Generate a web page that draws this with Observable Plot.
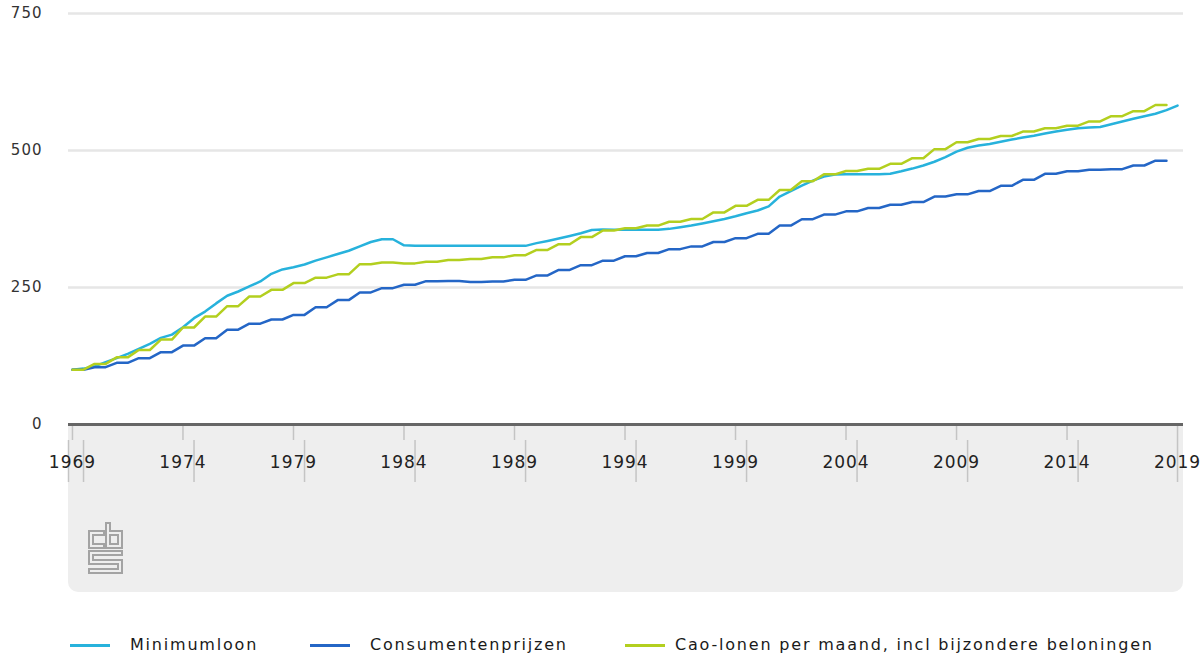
<!DOCTYPE html>
<html>
<head>
<meta charset="utf-8">
<script src="https://cdn.jsdelivr.net/npm/d3@7"></script>
<script src="https://cdn.jsdelivr.net/npm/@observablehq/plot@0.6"></script>
<style>
  html, body { margin: 0; padding: 0; background: #ffffff; }
  #wrap { position: relative; width: 1203px; height: 657px; overflow: hidden; font-family: "DejaVu Sans", sans-serif; }
  #graybox { position: absolute; left: 68px; top: 424px; width: 1115px; height: 168px; background: #eeeeee; border-radius: 0 0 10px 10px; }
  #logo { position: absolute; left: 88px; top: 522px; }
  #chart { position: absolute; left: 0; top: 0; }
  .leg { position: absolute; top: 633px; height: 24px; }
  .sw { position: absolute; top: 11px; width: 40px; height: 3px; }
  .lt { position: absolute; top: 0; font-size: 16px; letter-spacing: 1.8px; color: #1a1a1a; white-space: nowrap; line-height: 24px; }
</style>
</head>
<body>
<div id="wrap">
  <div id="graybox"></div>
  <svg id="logo" width="36" height="52" viewBox="0 0 36 52">
    <g fill="none" stroke="#a3a3a3" stroke-width="2">
      <path d="M16,9 H1 V26 H16 V22 H5 V13 H16 Z"/>
      <path d="M18,1 H22 V9 H34 V26 H18 Z"/>
      <path d="M22,13 H30 V22 H22 Z"/>
      <path d="M34,29 H1 V42 H30 V47 H1 V51 H34 V38 H5 V33 H34 Z"/>
    </g>
  </svg>
  <div id="chart"></div>
  <div id="legend"></div>
</div>
<script>
// ---------- DATA ----------
const series = ["Minimumloon", "Consumentenprijzen", "Cao-lonen per maand, incl bijzondere beloningen"];
const seriesColors = ["#27b2dc", "#2466c6", "#b3cf1f"];

// half-yearly periods (minimumloon)
const halfYears = [
  1969, 1969.5, 1970, 1970.5, 1971, 1971.5, 1972, 1972.5, 1973, 1973.5,
  1974, 1974.5, 1975, 1975.5, 1976, 1976.5, 1977, 1977.5, 1978, 1978.5,
  1979, 1979.5, 1980, 1980.5, 1981, 1981.5, 1982, 1982.5, 1983, 1983.5,
  1984, 1984.5, 1985, 1985.5, 1986, 1986.5, 1987, 1987.5, 1988, 1988.5,
  1989, 1989.5, 1990, 1990.5, 1991, 1991.5, 1992, 1992.5, 1993, 1993.5,
  1994, 1994.5, 1995, 1995.5, 1996, 1996.5, 1997, 1997.5, 1998, 1998.5,
  1999, 1999.5, 2000, 2000.5, 2001, 2001.5, 2002, 2002.5, 2003, 2003.5,
  2004, 2004.5, 2005, 2005.5, 2006, 2006.5, 2007, 2007.5, 2008, 2008.5,
  2009, 2009.5, 2010, 2010.5, 2011, 2011.5, 2012, 2012.5, 2013, 2013.5,
  2014, 2014.5, 2015, 2015.5, 2016, 2016.5, 2017, 2017.5, 2018, 2018.5,
  2019
];
const minimumloon = [
  100, 102, 106, 113.7, 121, 129, 138, 147, 158, 164,
  177.6, 194, 206, 221, 235, 242.7, 252, 261, 275, 283,
  287, 292, 299, 305, 311, 317, 325, 333, 338, 338,
  327, 326, 326, 326, 326, 326, 326, 326, 326, 326,
  326, 326, 331, 335, 339.4, 344, 349, 355, 356, 355.5,
  355.5, 355.5, 355.5, 355.5, 357, 360, 363, 366.8, 371, 375,
  380, 385.6, 390.5, 398, 416, 425.7, 436, 445, 452.6, 456,
  456.5, 456.5, 456.5, 456.5, 457.5, 462, 467, 472.6, 479.5, 488,
  498, 505, 509, 512, 516, 520, 523.7, 527, 531, 534.7,
  537.7, 540.7, 542, 543, 548, 553, 558, 562.6, 567, 573.6,
  582
];

// yearly periods (consumentenprijzen, cao-lonen)
const years = [
  1969, 1970, 1971, 1972, 1973, 1974, 1975, 1976, 1977, 1978,
  1979, 1980, 1981, 1982, 1983, 1984, 1985, 1986, 1987, 1988,
  1989, 1990, 1991, 1992, 1993, 1994, 1995, 1996, 1997, 1998,
  1999, 2000, 2001, 2002, 2003, 2004, 2005, 2006, 2007, 2008,
  2009, 2010, 2011, 2012, 2013, 2014, 2015, 2016, 2017, 2018
];
const consumentenprijzen = [
  100, 104.6, 112.5, 121, 132, 144, 157.5, 173, 184, 191.6,
  200, 214, 227, 241, 248.8, 255, 261.6, 262, 260, 261,
  264, 272, 282, 290.7, 299, 307, 313, 320, 325, 333,
  340, 348, 363, 374.6, 383, 389, 395, 401, 406, 416,
  420, 426, 435.5, 446.5, 457.5, 462, 465, 466, 472.6, 481.5
];
const caoLonen = [
  100, 110.5, 122.5, 136, 155, 177, 197, 216, 233.6, 245.7,
  258, 268, 274, 292.6, 295.6, 294, 297, 300, 302, 305,
  309, 318.5, 329, 342, 354, 358, 363, 370, 375, 387,
  399, 410, 428, 444, 456.5, 462.5, 466.6, 475.7, 486, 502.5,
  515, 521, 526.5, 534.6, 540.5, 545.3, 553, 562.6, 571.7, 583
];

const yTicks = [0, 250, 500, 750];
const xTicks = [1969, 1974, 1979, 1984, 1989, 1994, 1999, 2004, 2009, 2014, 2019];

// ---------- TABLE ----------
const rows = [];
halfYears.forEach((t, i) => rows.push({t, v: minimumloon[i], s: series[0]}));
years.forEach((y, i) => {
  // yearly figures are reported for both half-year periods of the year
  rows.push({t: y, v: consumentenprijzen[i], s: series[1]});
  rows.push({t: y + 0.5, v: consumentenprijzen[i], s: series[1]});
});
years.forEach((y, i) => {
  rows.push({t: y, v: caoLonen[i], s: series[2]});
  rows.push({t: y + 0.5, v: caoLonen[i], s: series[2]});
});

const xDomain = [1968.82, 2019.27];
const longTicks = [xDomain[0]].concat(xTicks.map(d => d < 2019 ? d + 0.5 : d));

const chart = Plot.plot({
  width: 1203,
  height: 600,
  marginTop: 13,
  marginBottom: 176,
  marginLeft: 68,
  marginRight: 20,
  style: {background: "transparent", fontFamily: "DejaVu Sans, sans-serif", overflow: "visible"},
  x: {domain: xDomain, label: null},
  y: {domain: [0, 750], label: null},
  color: {domain: series, range: seriesColors},
  marks: [
    Plot.gridY(yTicks.filter(d => d > 0), {stroke: "#e6e6e6", strokeOpacity: 1, strokeWidth: 2.5}),
    Plot.axisY(yTicks, {tickSize: 0, tickPadding: 26, fontSize: 15, fill: "#333", label: null}),
    Plot.ruleX(xTicks, {stroke: "#c4c4c4", strokeWidth: 1.5, insetTop: 411, insetBottom: -16}),
    Plot.ruleX(longTicks, {stroke: "#c4c4c4", strokeWidth: 1.5, insetTop: 427, insetBottom: -58}),
    Plot.ruleY([0], {stroke: "#666666", strokeWidth: 3}),
    Plot.line(rows, {x: "t", y: "v", z: "s", stroke: "s", strokeWidth: 2.5, curve: "linear"}),
    Plot.axisX(xTicks, {tickSize: 0, tickPadding: 31, fontSize: 17, fill: "#222", label: null, tickFormat: d => String(d)})
  ]
});
chart.querySelectorAll("text").forEach(t => t.setAttribute("letter-spacing", "1"));
document.getElementById("chart").appendChild(chart);

// ---------- LEGEND ----------
const legendPos = [[70, 130], [310, 370], [625, 675]];
const legend = document.getElementById("legend");
series.forEach((s, i) => {
  const item = document.createElement("div");
  item.className = "leg";
  item.style.left = "0px";
  const sw = document.createElement("div");
  sw.className = "sw";
  sw.style.left = legendPos[i][0] + "px";
  sw.style.background = seriesColors[i];
  const tx = document.createElement("div");
  tx.className = "lt";
  tx.style.left = legendPos[i][1] + "px";
  tx.textContent = s;
  item.appendChild(sw);
  item.appendChild(tx);
  legend.appendChild(item);
});
</script>
</body>
</html>
